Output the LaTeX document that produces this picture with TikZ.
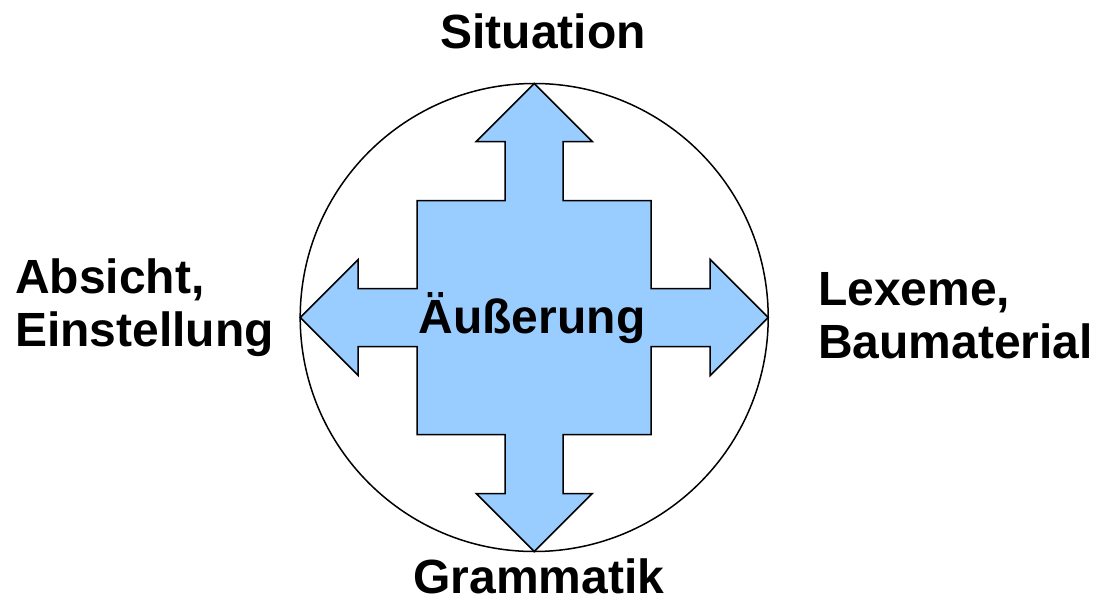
\documentclass[tikz,border=0pt]{standalone}
\usepackage{fontspec}
\setmainfont{Liberation Sans}
\definecolor{arrowfill}{HTML}{99CCFF}
\begin{document}
\begin{tikzpicture}[x=1pt,y=-1pt,
  lbl/.style={font=\fontsize{48}{53}\selectfont\bfseries, inner sep=0pt, text=black},
  outline/.style={draw=black, line width=1.5pt, line join=miter}]
\useasboundingbox (0,0) rectangle (1095,610);
\coordinate (c) at (534.2,317.5);
\node[outline, circle, minimum size=468pt, inner sep=0pt, fill=white] (ring) at (c) {};
\draw[outline, fill=arrowfill, shift={(c)}]
  (0,-234) -- (58,-176) -- (29,-176) -- (29,-117) -- (117,-117) -- (117,-29)
  -- (176,-29) -- (176,-58) -- (234,0) -- (176,58) -- (176,29) -- (117,29)
  -- (117,117) -- (29,117) -- (29,176) -- (58,176) -- (0,234) -- (-58,176)
  -- (-29,176) -- (-29,117) -- (-117,117) -- (-117,29) -- (-176,29)
  -- (-176,58) -- (-234,0) -- (-176,-58) -- (-176,-29) -- (-117,-29)
  -- (-117,-117) -- (-29,-117) -- (-29,-176) -- (-58,-176) -- cycle;
\node[lbl, anchor=base] (center) at (532,333) {Äußerung};
\node[lbl, anchor=base] (top) at (543,48.5) {Situation};
\node[lbl, anchor=base] (bottom) at (539,593) {Grammatik};
\node[lbl, anchor=north west, align=left] (left) at (15,258.5) {Absicht,\\Einstellung};
\node[lbl, anchor=north west, align=left] (right) at (818,272) {Lexeme,\\Baumaterial};
\end{tikzpicture}
\end{document}
